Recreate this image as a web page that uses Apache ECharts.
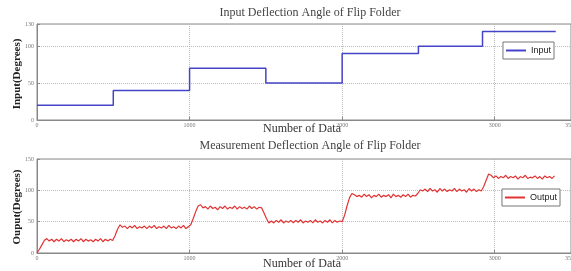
<!DOCTYPE html>
<html>
<head>
<meta charset="utf-8">
<script src="https://cdn.jsdelivr.net/npm/echarts@6/dist/echarts.min.js"></script>
<style>
  html, body { margin: 0; padding: 0; background: #fff; }
  #chart { width: 571px; height: 271px; }
</style>
</head>
<body>
<div id="chart"></div>
<script>
// input: step levels, each level holds until the next x
const stepX = [0, 500, 1000, 1500, 2000, 2500, 2920, 3400];
const stepY = [20, 40, 70, 50, 90, 100, 120, 120];

// output: measured angle, one sample every 16 data points
const sampleStep = 16;
const outY = [
  0, 6, 13, 20, 23,
  19, 22, 18, 22, 19, 23, 18, 21, 19, 22, 18, 22, 19, 23, 18, 22, 19, 21, 18, 22, 19, 23, 18, 22, 19, 22, 20,
  28, 38, 45,
  41, 43, 39, 43, 40, 44, 39, 42, 40, 43, 39, 43, 40, 44, 39, 42, 40, 43, 39, 44, 40, 42, 39, 43, 40, 44, 39, 42,
  45, 55, 66, 75, 77,
  72, 74, 70, 75, 71, 73, 69, 74, 71, 75, 70, 73, 71, 75, 70, 74, 71, 73, 70, 75, 71, 74, 70, 73, 72,
  64, 55, 48,
  51, 48, 52, 49, 53, 48, 51, 49, 52, 48, 52, 49, 53, 48, 51, 49, 52, 48, 53, 49, 51, 48, 52, 49, 53, 48, 52, 49, 51, 50,
  60, 75, 88, 95,
  93, 90, 92, 89, 94, 90, 93, 88, 92, 90, 94, 89, 92, 90, 93, 88, 94, 90, 92, 89, 93, 90, 94, 89, 92, 91,
  95, 101,
  99, 102, 98, 103, 99, 101, 97, 103, 99, 102, 98, 101, 99, 103, 98, 102, 99, 101, 97, 103, 99, 102, 98, 101, 99,
  106, 116, 126, 124,
  120, 123, 119, 122, 120, 124, 119, 122, 120, 123, 118, 122, 120, 124, 119, 121, 120, 123, 119, 122, 118, 123, 120, 122, 119, 123
];

const xTicks = { min: 0, max: 3500, interval: 1000 };
const xName = 'Number of Data';
const yNames = ['Input(Degrees)', 'Ouput(Degrees)'];

const serif = 'Liberation Serif';
const gridColor = '#bbb';
const axisColor = '#888';

function xAxisCfg(idx) {
  return {
    type: 'value', gridIndex: idx,
    min: xTicks.min, max: xTicks.max, interval: xTicks.interval,
    axisLine: { lineStyle: { color: axisColor } },
    axisTick: { inside: true, length: 3, lineStyle: { color: axisColor } },
    axisLabel: { fontSize: 6, color: '#777', margin: 2, fontFamily: serif, formatter: v => String(v) },
    splitLine: { show: true, lineStyle: { color: gridColor, type: 'dotted' } }
  };
}

function yAxisCfg(idx, max) {
  return {
    type: 'value', gridIndex: idx, min: 0, max: max, interval: 50,
    axisLine: { show: true, lineStyle: { color: axisColor } },
    axisTick: { show: true, inside: true, length: 3, lineStyle: { color: axisColor } },
    axisLabel: { fontSize: 6, color: '#777', margin: 3, fontFamily: serif },
    splitLine: { show: true, lineStyle: { color: gridColor, type: 'dotted' } }
  };
}

function yNameText(text, y) {
  return {
    type: 'text', x: 17, y: y, rotation: Math.PI / 2,
    style: { text: text, fontFamily: serif, fontSize: 11, fontWeight: 'bold', fill: '#222',
      align: 'center', verticalAlign: 'middle' }
  };
}

const titleStyle = { fontFamily: serif, fontSize: 12, fontWeight: 'normal', color: '#444' };
const nameStyle = { fontFamily: serif, fontSize: 12, fontWeight: 'normal', color: '#333' };

const chart = echarts.init(document.getElementById('chart'));
chart.setOption({
  animation: false,
  title: [
    { text: 'Input Deflection Angle of Flip Folder', left: 305, top: 2, textAlign: 'center', textStyle: titleStyle },
    { text: 'Measurement Deflection Angle of Flip Folder', left: 305, top: 135, textAlign: 'center', textStyle: titleStyle },
    { text: xName, left: 297, top: 118, textAlign: 'center', textStyle: nameStyle },
    { text: xName, left: 297, top: 253, textAlign: 'center', textStyle: nameStyle }
  ],
  graphic: [yNameText(yNames[0], 74), yNameText(yNames[1], 207)],
  grid: [
    { left: 37, right: 0, top: 24, height: 96, show: true, borderColor: axisColor, borderWidth: 1,
      outerBoundsMode: 'none', containLabel: false },
    { left: 37, right: 0, top: 159, height: 94, show: true, borderColor: axisColor, borderWidth: 1,
      outerBoundsMode: 'none', containLabel: false }
  ],
  legend: [
    { data: ['Input'], right: 17, top: 42, icon: 'rect', itemWidth: 20, itemHeight: 2, padding: [4, 3],
      borderColor: '#777', borderWidth: 1, backgroundColor: '#fff',
      textStyle: { fontFamily: 'Liberation Sans', fontSize: 9, color: '#222' } },
    { data: ['Output'], right: 11, top: 189, icon: 'rect', itemWidth: 20, itemHeight: 2, padding: [4, 3],
      borderColor: '#777', borderWidth: 1, backgroundColor: '#fff',
      textStyle: { fontFamily: 'Liberation Sans', fontSize: 9, color: '#222' } }
  ],
  xAxis: [xAxisCfg(0), xAxisCfg(1)],
  yAxis: [yAxisCfg(0, 130), yAxisCfg(1, 150)],
  series: [
    {
      name: 'Input', type: 'line', xAxisIndex: 0, yAxisIndex: 0,
      step: 'end', symbol: 'none',
      lineStyle: { color: '#4444c8', width: 1.5 }, itemStyle: { color: '#4444c8' },
      data: stepX.map((x, i) => [x, stepY[i]])
    },
    {
      name: 'Output', type: 'line', xAxisIndex: 1, yAxisIndex: 1,
      symbol: 'none',
      lineStyle: { color: '#e03434', width: 1.2 }, itemStyle: { color: '#e03434' },
      data: outY.map((y, i) => [i * sampleStep, y])
    }
  ]
});
</script>
</body>
</html>
